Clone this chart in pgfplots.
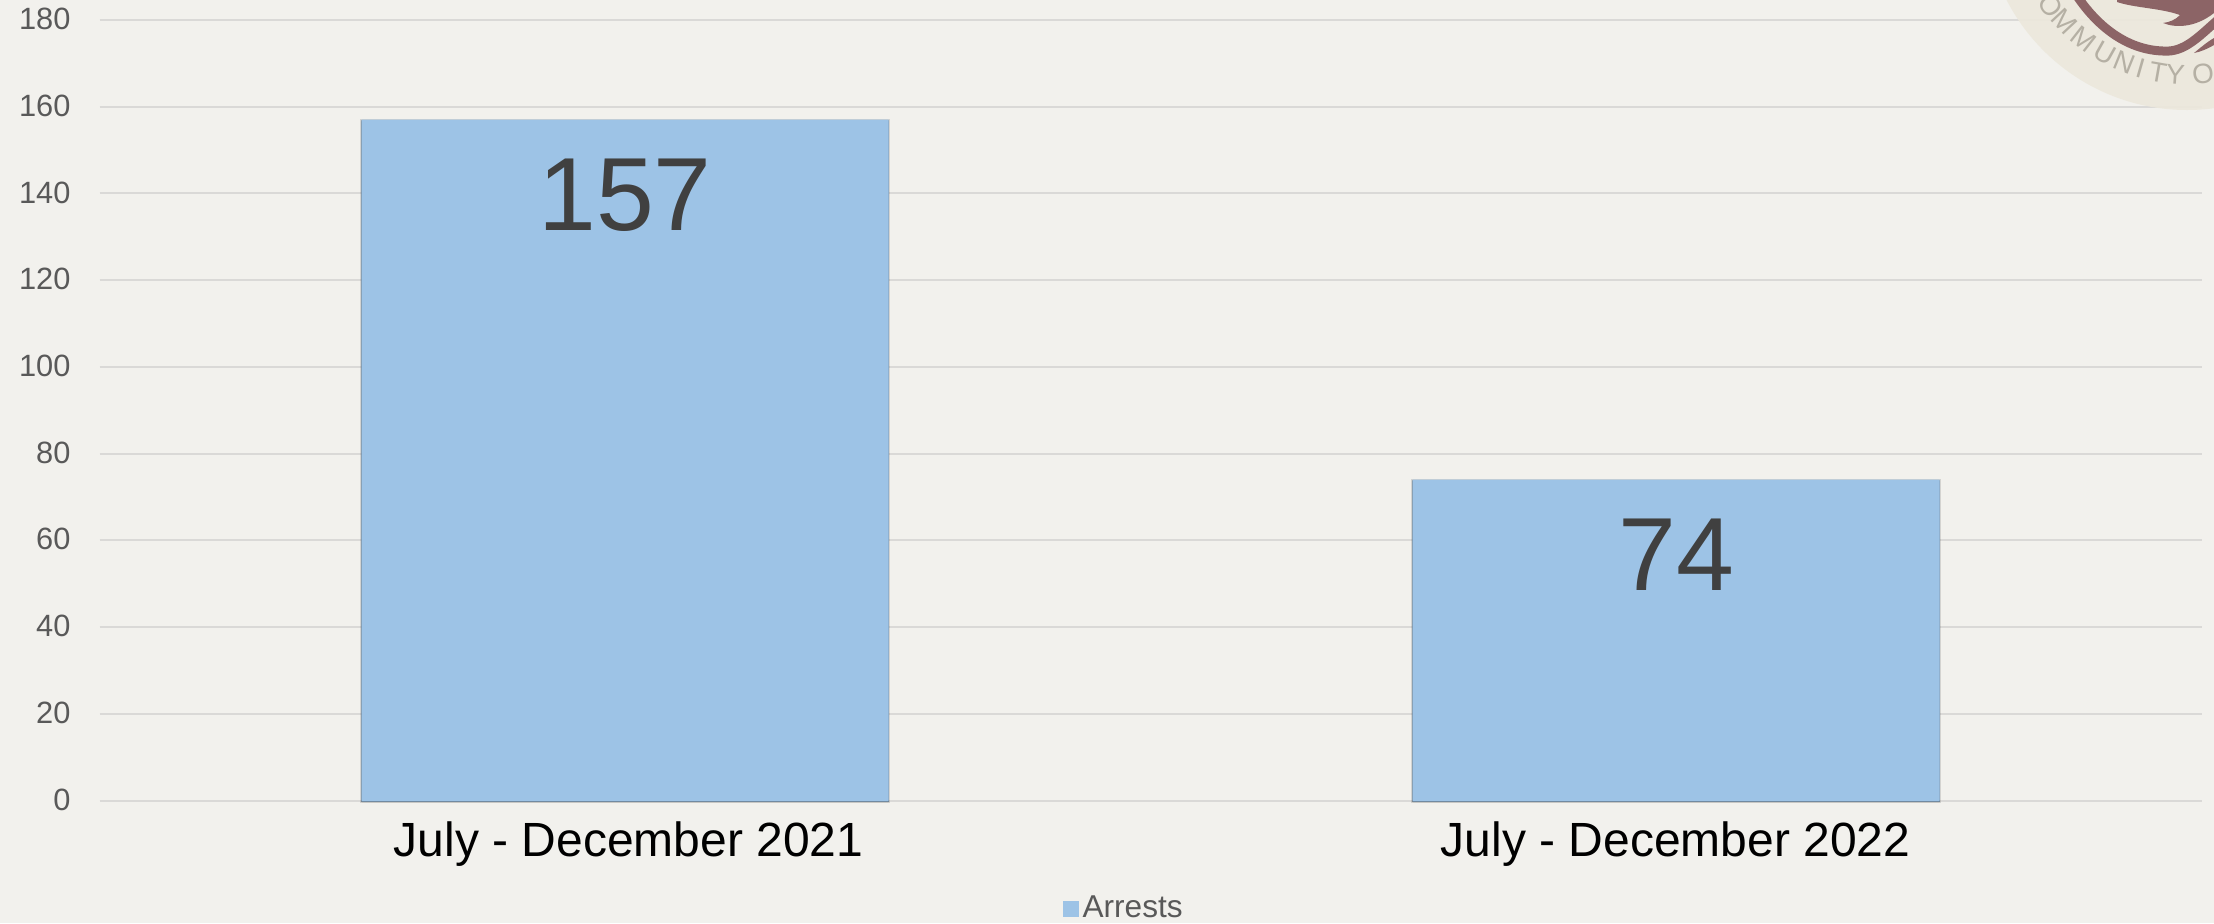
\documentclass[border=0pt]{standalone}
\usepackage{pgfplots}
\pgfplotsset{compat=1.18}
\usepackage{fontspec}
\setmainfont{Liberation Sans}
\definecolor{pagebg}{HTML}{F2F1ED}
\definecolor{barblue}{HTML}{9DC3E6}
\definecolor{gridgrey}{HTML}{DAD9D7}
\definecolor{ticktext}{HTML}{595959}
\definecolor{valuetext}{HTML}{404040}
\definecolor{sealfill}{HTML}{ECE8DC}
\definecolor{sealbrown}{HTML}{8C6466}
\definecolor{sealtext}{HTML}{B5B0A4}
\pgfplotstableread{
pos arrests
0 157
1 74
}\arrests
\begin{document}
\begin{tikzpicture}
% page, with the origin at its top left corner
\path[use as bounding box] (0,0) rectangle (1107pt,-461.5pt);
\fill[pagebg] (0,0) rectangle (1107pt,-461.5pt);
\begin{axis}[
  at={(49.75pt,-400.25pt)},anchor=south west,
  scale only axis,
  width=1051pt,height=390.25pt,
  xmin=-0.5,xmax=1.5,ymin=0,ymax=180,
  axis line style={draw=none},
  axis on top=false,
  ymajorgrids,
  grid style={gridgrey,line width=1pt},
  ytick={0,20,...,180},
  xtick={0.0034,0.9995},
  xticklabels={July - December 2021,July - December 2022},
  major tick style={draw=none},
  clip=false,
  tick label style={font=\fontsize{15.4}{15.4}\selectfont,text=ticktext},
  x tick label style={font=\fontsize{24}{24}\selectfont,text=black,yshift=-3pt},
  yticklabel style={/pgf/number format/assume math mode=true,xshift=-11pt,yshift=0.5pt},
  ybar,
  bar width=263.5pt,
  legend style={at={(0.4877,-0.1385)},anchor=center,draw=none,fill=none,
    font=\fontsize{15.8}{15.8}\selectfont,text=ticktext,legend columns=1,
    inner sep=0pt},
  % plain PGF here, so that the bar's soft edge stays off the legend key
  legend image code/.code={\pgfsetfillcolor{barblue}%
    \pgfpathrectangle{\pgfpoint{0pt}{-4pt}}{\pgfpoint{8pt}{8pt}}\pgfusepath{fill}},
]
\addplot[fill=barblue,draw=none,
  preaction={fill=black,fill opacity=0.45,transform canvas={yshift=-0.8pt}},
  preaction={draw=black,draw opacity=0.12,line width=1.6pt,transform canvas={yshift=-0.5pt}},
  preaction={draw=black,draw opacity=0.22,line width=0.9pt,transform canvas={yshift=-0.5pt}},
  nodes near coords={\pgfmathprintnumber[assume math mode=true]{\pgfplotspointmeta}},
  nodes near coords align={below},
  every node near coord/.append style={font=\fontsize{52}{52}\selectfont,text=valuetext,yshift=-16pt},
] table[x=pos,y=arrests] {\arrests};
\addlegendentry{Arrests}
\end{axis}
% seal in the top right corner, in page pixels
\begin{scope}[x=0.5pt,y=-0.5pt]
  \clip (0,0) rectangle (2214,923);
  \fill[sealfill,fill opacity=0.93] (2187,-93) circle[x radius=101.5pt,y radius=101.5pt];
  \draw[sealbrown,line width=4.5pt,line cap=round] (2077,-4) .. controls (2100,30) and (2130,50) .. (2163,51)
     .. controls (2185,53) and (2200,35) .. (2220,18);
  \fill[sealbrown] (2117,-2) -- (2117,2) .. controls (2135,8) and (2160,8) .. (2180,15)
     .. controls (2175,20) and (2170,22) .. (2163,23)
     .. controls (2175,28) and (2195,28) .. (2214,13) -- (2214,-2) -- cycle;
  \fill[sealbrown] (2194,53) .. controls (2200,48) and (2207,42) .. (2214,38) -- (2214,45) .. controls (2207,49) and (2200,52) .. (2194,53) -- cycle;
  \foreach \ang/\letter in {208/C,216/O,223/M,232/M,240.6/U,248/N,254/I,260/T,266/Y,275.5/O}
    \node[text=sealtext,font=\fontsize{14}{14}\selectfont,inner sep=0pt,rotate=\ang-270]
      at ({2187+168*cos(\ang)},{-93-168*sin(\ang)}) {\letter};
\end{scope}
\end{tikzpicture}
\end{document}
